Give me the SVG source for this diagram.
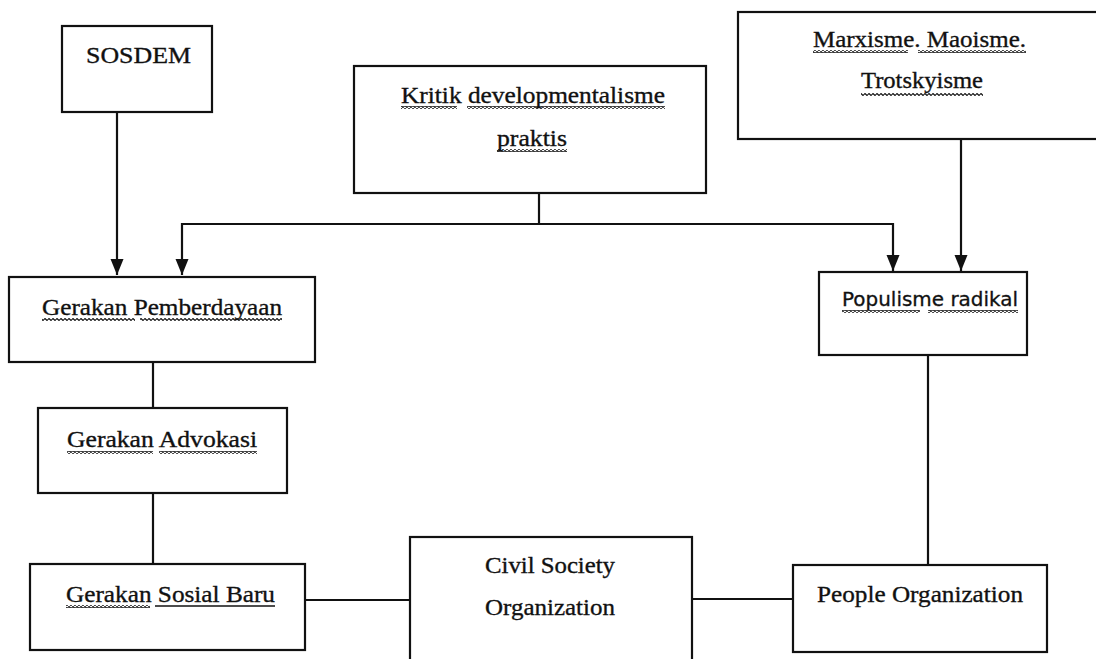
<svg xmlns="http://www.w3.org/2000/svg" width="1096" height="659" viewBox="0 0 1096 659">
<style>
  .box { fill: #ffffff; stroke: #111111; stroke-width: 2.2; }
  .t { font-family: "Liberation Serif", "Times New Roman", serif; font-size: 24px; fill: #111111; stroke: #111111; stroke-width: 0.35; }
  .ts { font-family: "DejaVu Sans", "Liberation Sans", sans-serif; font-size: 19px; fill: #111111; stroke: #111111; stroke-width: 0.3; }
  .conn { fill: none; stroke: #111111; stroke-width: 2.2; }
  .wv { fill: url(#wavy); }
  .ul { fill: none; stroke: #111111; stroke-width: 1.4; }
</style>
<defs>
  <marker id="arrow" markerUnits="userSpaceOnUse" markerWidth="16" markerHeight="14" refX="16" refY="7" orient="auto" viewBox="0 0 16 14">
    <path d="M0,0.5 L16,7 L0,13.5 z" fill="#111111"/>
  </marker>
  <pattern id="wavy" patternUnits="userSpaceOnUse" width="4" height="3">
    <path d="M0,1.5 L1,0.5 L2,1.5 L3,2.5 L4,1.5" fill="none" stroke="#111111" stroke-width="1.1"/>
  </pattern>
</defs>
<rect x="0" y="0" width="1096" height="659" fill="#ffffff"/>

<g id="connectors">
  <path class="conn" d="M117,112 V275" marker-end="url(#arrow)"/>
  <path class="conn" d="M539,193 V224"/>
  <path class="conn" d="M182,224 H893"/>
  <path class="conn" d="M182,223 V275" marker-end="url(#arrow)"/>
  <path class="conn" d="M893,223 V271" marker-end="url(#arrow)"/>
  <path class="conn" d="M961,139 V271" marker-end="url(#arrow)"/>
  <path class="conn" d="M153,362 V408"/>
  <path class="conn" d="M153,493 V564"/>
  <path class="conn" d="M305,600 H410"/>
  <path class="conn" d="M692,599 H793"/>
  <path class="conn" d="M928,355 V565"/>
</g>

<g id="sosdem">
  <rect class="box" x="62" y="26" width="150" height="86"/>
  <text class="t" x="86" y="63" textLength="105" lengthAdjust="spacingAndGlyphs">SOSDEM</text>
</g>

<g id="kritik">
  <rect class="box" x="354" y="66" width="352" height="127"/>
  <text class="t" x="401" y="103" textLength="264" lengthAdjust="spacingAndGlyphs">Kritik developmentalisme</text>
  <text class="t" x="497" y="146" textLength="70" lengthAdjust="spacingAndGlyphs">praktis</text>
  <rect class="wv" x="401" y="106" width="56" height="3"/>
  <rect class="wv" x="467" y="106" width="198" height="3"/>
  <rect class="wv" x="497" y="149" width="70" height="3"/>
</g>

<g id="marxisme">
  <rect class="box" x="738" y="12" width="362" height="127"/>
  <text class="t" x="813" y="47" textLength="213" lengthAdjust="spacingAndGlyphs">Marxisme. Maoisme.</text>
  <text class="t" x="861" y="88" textLength="122" lengthAdjust="spacingAndGlyphs">Trotskyisme</text>
  <rect class="wv" x="813" y="50" width="95" height="3"/>
  <rect class="wv" x="918" y="50" width="108" height="3"/>
  <rect class="wv" x="861" y="93" width="122" height="3"/>
</g>

<g id="gerakan-pemberdayaan">
  <rect class="box" x="9" y="277" width="306" height="85"/>
  <text class="t" x="42" y="315" textLength="240" lengthAdjust="spacingAndGlyphs">Gerakan Pemberdayaan</text>
  <rect class="wv" x="42" y="318" width="93" height="3"/>
  <rect class="wv" x="140" y="318" width="142" height="3"/>
</g>

<g id="populisme-radikal">
  <rect class="box" x="819" y="272" width="208" height="83"/>
  <text class="ts" x="842" y="306" textLength="176" lengthAdjust="spacingAndGlyphs">Populisme radikal</text>
  <rect class="wv" x="842" y="310" width="78" height="3"/>
  <rect class="wv" x="928" y="310" width="90" height="3"/>
</g>

<g id="gerakan-advokasi">
  <rect class="box" x="38" y="408" width="249" height="85"/>
  <text class="t" x="67" y="447" textLength="190" lengthAdjust="spacingAndGlyphs">Gerakan Advokasi</text>
  <rect class="wv" x="67" y="451" width="86" height="3"/>
  <rect class="wv" x="159" y="451" width="98" height="3"/>
</g>

<g id="gerakan-sosial-baru">
  <rect class="box" x="30" y="564" width="275" height="86"/>
  <text class="t" x="66" y="602" textLength="209" lengthAdjust="spacingAndGlyphs">Gerakan Sosial Baru</text>
  <rect class="wv" x="66" y="605" width="84" height="3"/>
  <path class="ul" d="M155,606 H275"/>
</g>

<g id="civil-society-organization">
  <rect class="box" x="410" y="537" width="282" height="130"/>
  <text class="t" x="485" y="573" textLength="130" lengthAdjust="spacingAndGlyphs">Civil Society</text>
  <text class="t" x="485" y="615" textLength="130" lengthAdjust="spacingAndGlyphs">Organization</text>
</g>

<g id="people-organization">
  <rect class="box" x="793" y="565" width="254" height="87"/>
  <text class="t" x="817" y="602" textLength="206" lengthAdjust="spacingAndGlyphs">People Organization</text>
</g>
</svg>
